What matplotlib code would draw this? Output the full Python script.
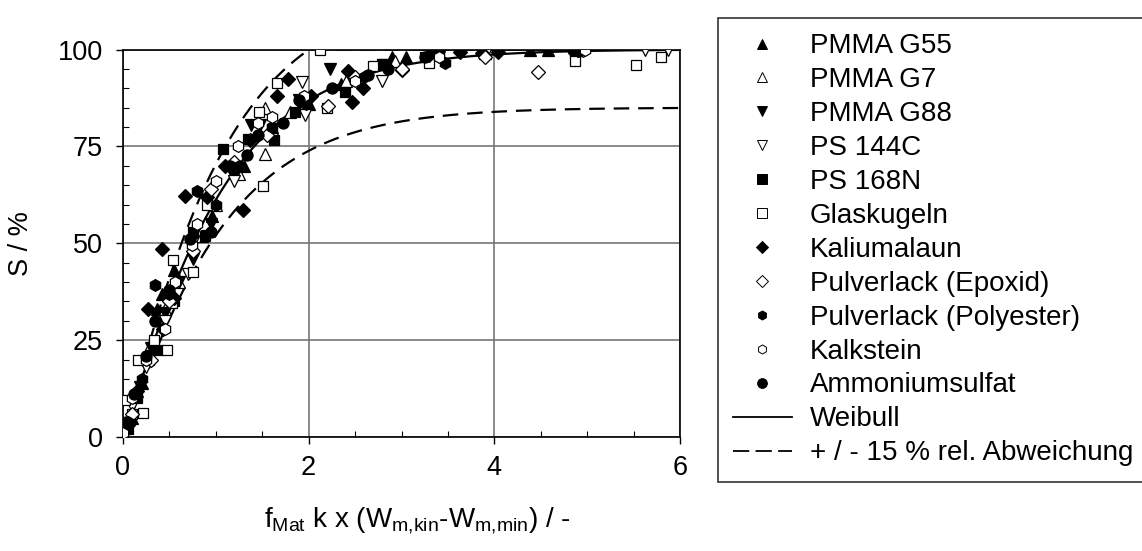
import numpy as np
import matplotlib
matplotlib.use('Agg')
import matplotlib.pyplot as plt
from matplotlib.ticker import MultipleLocator
from matplotlib.lines import Line2D

plt.rcParams['font.family'] = ['Liberation Sans', 'DejaVu Sans']
plt.rcParams['mathtext.fontset'] = 'custom'
plt.rcParams['mathtext.rm'] = 'Liberation Sans'
plt.rcParams['mathtext.it'] = 'Liberation Sans'

# data (x, S in %)
g55_x = [0.1, 0.2, 0.27, 0.37, 0.42, 0.55, 0.75, 0.96, 1.3, 1.6, 2.0, 2.35, 2.9, 3.05, 4.38, 4.58]
g55_y = [5, 14, 22, 33, 37, 43, 53, 57, 70, 80, 86, 91, 98, 98, 100, 100]
g7_x = [0.15, 0.3, 0.45, 0.6, 0.85, 1.0, 1.25, 1.53, 1.53, 1.8, 2.4, 2.93, 3.9, 4.9]
g7_y = [12, 24, 33, 40, 52, 60, 68, 73, 85, 84, 92, 97, 99, 100]
g88_x = [0.05, 0.18, 0.3, 0.45, 0.6, 0.75, 0.95, 1.2, 1.38, 1.48, 1.9, 2.23, 2.8, 3.4, 4.9]
g88_y = [3, 13, 23, 32, 40, 46, 55, 67, 80.5, 80.5, 87, 95, 96, 98, 100]
ps144_x = [0.1, 0.25, 0.45, 0.7, 0.9, 1.2, 1.6, 1.93, 1.96, 2.79, 3.3, 3.9, 4.9, 5.62, 5.87]
ps144_y = [8, 18, 30, 42, 52, 66, 77, 91.6, 83, 92, 97, 98.6, 99, 100, 100]
ps168_x = [0.05, 0.15, 0.28, 0.38, 0.55, 0.75, 0.88, 1.08, 1.35, 1.63, 1.85, 2.39, 2.79, 3.25, 4.87]
ps168_y = [2, 10, 20, 22.5, 35, 53, 52, 74.3, 77, 76.6, 84, 89, 96.3, 98, 99.4]
glas_x = [0.0, 0.02, 0.1, 0.22, 0.16, 0.33, 0.47, 0.53, 0.54, 0.75, 0.9, 1.17, 1.47, 1.51,
          1.66, 2.12, 2.2, 2.69, 3.3, 4.87, 5.53, 5.8]
glas_y = [1, 9.5, 6, 6.2, 20, 25, 22.5, 34.6, 45.7, 42.6, 60, 70, 84, 64.8,
          91.4, 100, 85, 95.7, 96.5, 97, 96, 98]
kali_x = [0.05, 0.15, 0.27, 0.43, 0.42, 0.55, 0.67, 0.9, 1.1, 1.29, 1.37, 1.66, 1.78, 2.02,
          2.42, 2.47, 2.59, 3.0, 3.3, 3.63, 3.87, 4.04, 4.9]
kali_y = [3, 12, 33, 28, 48.5, 36, 62.2, 62, 70, 58.6, 76.6, 88, 92.4, 88,
          94.5, 86.5, 90, 94.6, 98.6, 99.4, 99, 99.3, 100]
epox_x = [0.1, 0.3, 0.5, 0.75, 0.95, 1.2, 1.55, 1.92, 2.21, 2.5, 3.0, 3.9, 4.47, 4.95]
epox_y = [6, 20, 35, 48, 64, 71, 78, 87, 85.4, 93, 95, 98, 94.2, 100]
poly_x = [0.05, 0.2, 0.34, 0.5, 0.8, 1.0, 1.25, 1.6, 1.97, 2.6, 3.47, 4.9]
poly_y = [4, 15, 39.2, 37, 63.6, 60, 70, 80, 86, 93, 96.5, 99.5]
kalk_x = [0.0, 0.1, 0.25, 0.45, 0.56, 0.74, 0.8, 1.0, 1.24, 1.45, 1.6, 1.95, 2.5, 3.4, 4.98]
kalk_y = [1, 10, 20, 28, 40, 49.5, 55, 66, 75, 81, 82.6, 88, 92, 98, 100]
amm_x = [0.03, 0.12, 0.25, 0.35, 0.5, 0.72, 0.95, 1.15, 1.34, 1.45, 1.72, 1.9, 2.25, 2.64, 2.85, 3.25, 4.85]
amm_y = [4, 11, 21, 30, 38, 51, 53, 70, 72.8, 78, 81, 87, 90, 93.4, 95, 98, 100]

# Weibull fit parameters (scale, shape)
wb_a = 1.05
wb_b = 1.1

# name, x, y, marker, filled
series = [
    ('PMMA G55', g55_x, g55_y, '^', True),
    ('PMMA G7', g7_x, g7_y, '^', False),
    ('PMMA G88', g88_x, g88_y, 'v', True),
    ('PS 144C', ps144_x, ps144_y, 'v', False),
    ('PS 168N', ps168_x, ps168_y, 's', True),
    ('Glaskugeln', glas_x, glas_y, 's', False),
    ('Kaliumalaun', kali_x, kali_y, 'D', True),
    ('Pulverlack (Epoxid)', epox_x, epox_y, 'D', False),
    ('Pulverlack (Polyester)', poly_x, poly_y, 'h', True),
    ('Kalkstein', kalk_x, kalk_y, 'h', False),
    ('Ammoniumsulfat', amm_x, amm_y, 'o', True),
]
plot_ms = {'^': 9, 'v': 9, 's': 7.5, 'D': 7.2, 'h': 8.5, 'o': 8}
leg_ms = {'^': 7.5, 'v': 7.5, 's': 7, 'D': 6.5, 'h': 6.5, 'o': 7}

fig = plt.figure(figsize=(11.42, 5.51), dpi=100)
ax = fig.add_axes([123/1142, 1-437/551, 557/1142, 387.5/551])

xs = np.linspace(0, 6, 300)
wb = 100*(1-np.exp(-(xs/wb_a)**wb_b))
ax.plot(xs, wb, color='black', lw=1.6, zorder=3)
ax.plot(xs, np.minimum(wb*1.15, 100), color='black', lw=1.6, ls=(0, (7, 4)), zorder=3)
ax.plot(xs, wb*0.85, color='black', lw=1.6, ls=(0, (7, 4)), zorder=3)

handles = []
for name, x, y, m, filled in series:
    fc = 'black' if filled else 'white'
    ax.plot(x, y, ls='none', marker=m, ms=plot_ms[m], mfc=fc, mec='black', mew=0.9, zorder=4)
    handles.append(Line2D([], [], ls='none', marker=m, ms=leg_ms[m], mfc=fc,
                          mec='black', mew=0.7, label=name))
handles.append(Line2D([], [], color='black', lw=1.3, label='Weibull'))
handles.append(Line2D([], [], color='black', lw=1.3, ls=(0, (9, 3.5)),
                      label='+ / - 15 % rel. Abweichung'))

ax.set_xlim(0, 6)
ax.set_ylim(0, 100)
ax.xaxis.set_major_locator(MultipleLocator(2))
ax.xaxis.set_minor_locator(MultipleLocator(0.5))
ax.yaxis.set_major_locator(MultipleLocator(25))
ax.yaxis.set_minor_locator(MultipleLocator(5))
ax.tick_params(which='major', direction='out', length=5, width=1, labelsize=19.5)
ax.tick_params(axis='y', which='major', pad=9.5)
ax.tick_params(axis='x', which='major', pad=8)
ax.tick_params(which='minor', direction='in', length=4, width=0.8)
ax.grid(True, which='major', color='#777777', lw=1.2)
ax.set_axisbelow(True)
for s in ax.spines.values():
    s.set_linewidth(1.2)

ax.set_ylabel('S / %', fontsize=19.5)
ax.yaxis.set_label_coords(-0.16, 0.5)
ax.set_xlabel(r'f$_{\mathrm{Mat}}$ k x (W$_{\mathrm{m{,}kin}}$-W$_{\mathrm{m{,}min}}$) / -',
              fontsize=20)
ax.xaxis.set_label_coords(0.528, -0.175)

leg = fig.legend(handles=handles, loc='upper left', bbox_to_anchor=(718/1142, 1-18/551),
                 fontsize=20, frameon=True, fancybox=False, edgecolor='black',
                 handlelength=2.1, handletextpad=0.65, labelspacing=0.285, borderpad=0.55,
                 borderaxespad=0)
leg.get_frame().set_linewidth(1.2)

plt.savefig('out.png', dpi=100)
